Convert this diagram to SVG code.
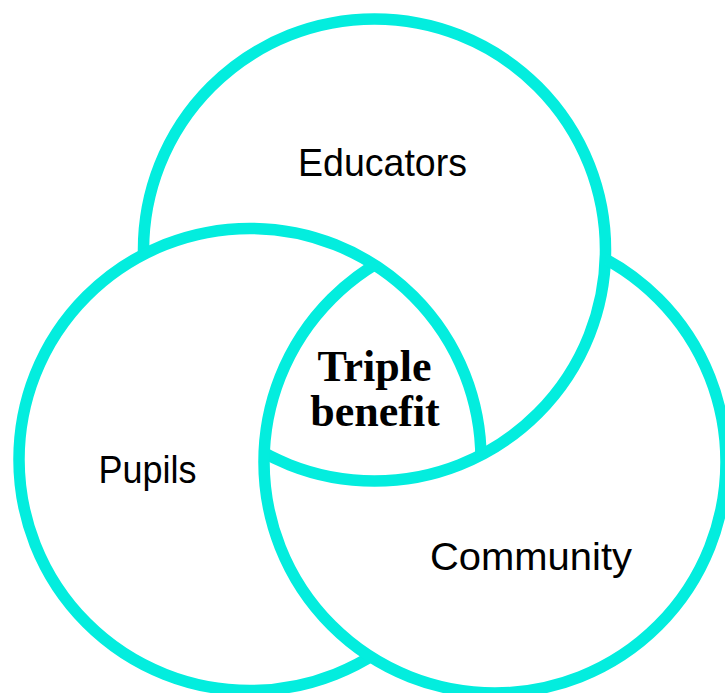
<svg xmlns="http://www.w3.org/2000/svg" width="725" height="693" viewBox="0 0 725 693">
  <style>
    .ring { fill: none; stroke: #03EDDE; stroke-width: 11.5; }
    .lbl { font-family: "Liberation Sans", Arial, sans-serif; font-size: 39px; fill: #000; text-anchor: middle; }
    .core { font-family: "Liberation Serif", "Times New Roman", serif; font-weight: bold; font-size: 44px; fill: #000; text-anchor: middle; }
  </style>
  <defs>
    <mask id="mE" maskUnits="userSpaceOnUse" x="-50" y="-50" width="850" height="800">
      <rect x="-50" y="-50" width="850" height="800" fill="#fff"/>
      <circle cx="250" cy="459.5" r="231" fill="#000"/>
      <circle cx="495" cy="462" r="231" fill="#fff"/>
    </mask>
    <mask id="mP" maskUnits="userSpaceOnUse" x="-50" y="-50" width="850" height="800">
      <rect x="-50" y="-50" width="850" height="800" fill="#fff"/>
      <circle cx="495" cy="462" r="231" fill="#000"/>
      <circle cx="374.5" cy="250" r="231" fill="#fff"/>
    </mask>
    <mask id="mC" maskUnits="userSpaceOnUse" x="-50" y="-50" width="850" height="800">
      <rect x="-50" y="-50" width="850" height="800" fill="#fff"/>
      <circle cx="374.5" cy="250" r="231" fill="#000"/>
      <circle cx="250" cy="459.5" r="231" fill="#fff"/>
    </mask>
  </defs>
  <rect width="725" height="693" fill="#fff"/>
  <g id="educators">
    <circle class="ring" cx="374.5" cy="250" r="231" mask="url(#mE)"/>
    <text class="lbl" x="382.5" y="176" textLength="169" lengthAdjust="spacingAndGlyphs">Educators</text>
  </g>
  <g id="pupils">
    <circle class="ring" cx="250" cy="459.5" r="231" mask="url(#mP)"/>
    <text class="lbl" x="147.5" y="483" textLength="98" lengthAdjust="spacingAndGlyphs">Pupils</text>
  </g>
  <g id="community">
    <circle class="ring" cx="495" cy="462" r="231" mask="url(#mC)"/>
    <text class="lbl" x="531" y="570" textLength="202" lengthAdjust="spacingAndGlyphs">Community</text>
  </g>
  <g id="triple-benefit">
    <text class="core" x="374.5" y="381">Triple</text>
    <text class="core" x="375" y="426">benefit</text>
  </g>
  <g id="connectors"/>
</svg>
